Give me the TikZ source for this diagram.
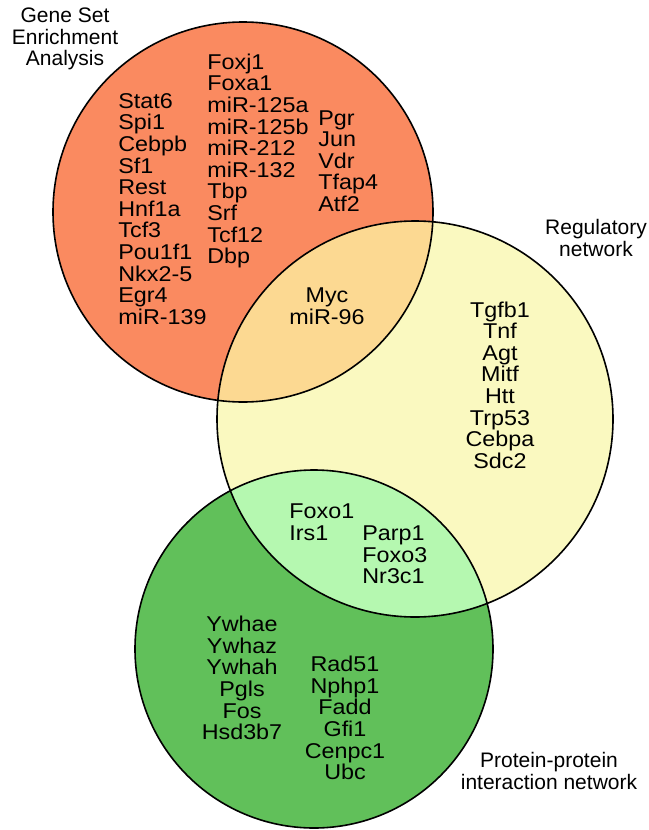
\documentclass[tikz,border=0pt]{standalone}
\usepackage{fontspec}
\setmainfont{Liberation Sans}
\newfontfamily\genefont{Liberation Sans}[FakeStretch=1.09]
\usepackage{xcolor}
\usepackage{tikz}
\usetikzlibrary{positioning}

\definecolor{gseaorange}{RGB}{250,138,96}
\definecolor{regyellow}{RGB}{250,249,192}
\definecolor{ppigreen}{RGB}{97,192,90}
\definecolor{mixorange}{RGB}{252,217,146}
\definecolor{mixgreen}{RGB}{181,248,176}

\begin{document}
\begin{tikzpicture}[
  x=0.5pt, y=-0.5pt,
  genes/.style={inner sep=0pt, align=center,
    font=\genefont\fontsize{10.7}{10.8}\selectfont},
  genesl/.style={genes, align=left, anchor=west},
  setname/.style={inner sep=0pt, align=center,
    font=\fontsize{10.5}{10.8}\selectfont},
  ring/.style={draw=black, line width=0.8pt}
]
  \useasboundingbox (0,0) rectangle (648,830);

  % circle centres
  \coordinate (cg) at (243,212);
  \coordinate (cr) at (415,419);
  \coordinate (cp) at (314,649);

  \fill[gseaorange] (cg) circle (190);
  \fill[regyellow] (cr) circle (198);
  \fill[ppigreen] (cp) circle (179);
  \begin{scope}
    \clip (cg) circle (190);
    \fill[mixorange] (cr) circle (198);
  \end{scope}
  \begin{scope}
    \clip (cp) circle (179);
    \fill[mixgreen] (cr) circle (198);
  \end{scope}
  \draw[ring] (cg) circle (190);
  \draw[ring] (cr) circle (198);
  \draw[ring] (cp) circle (179);

  % set names
  \node[setname] (lblgsea) at (65,39) {Gene Set\\Enrichment\\Analysis};
  \node[setname] (lblreg) at (596,238) {Regulatory\\network};
  \node[setname] (lblppi) at (549,771) {Protein-protein\\interaction network};

  % genes
  \node[genesl] (gseaa) at (118,209) {Stat6\\Spi1\\Cebpb\\Sf1\\Rest\\Hnf1a\\Tcf3\\Pou1f1\\Nkx2-5\\Egr4\\miR-139};
  \node[genesl] (gseab) at (207,161) {Foxj1\\Foxa1\\miR-125a\\miR-125b\\miR-212\\miR-132\\Tbp\\Srf\\Tcf12\\Dbp};
  \node[genesl] (gseac) at (318,161) {Pgr\\Jun\\Vdr\\Tfap4\\Atf2};
  \node[genes] (gseareg) at (327,306) {Myc\\miR-96};
  \node[genes] (regonly) at (500,385) {Tgfb1\\Tnf\\Agt\\Mitf\\Htt\\Trp53\\Cebpa\\Sdc2};
  \node[genesl] (regppia) at (289,522) {Foxo1\\Irs1};
  \node[genesl] (regppib) at (362,555) {Parp1\\Foxo3\\Nr3c1};
  \node[genes] (ppia) at (242,678) {Ywhae\\Ywhaz\\Ywhah\\Pgls\\Fos\\Hsd3b7};
  \node[genes] (ppib) at (345,718) {Rad51\\Nphp1\\Fadd\\Gfi1\\Cenpc1\\Ubc};
\end{tikzpicture}
\end{document}
